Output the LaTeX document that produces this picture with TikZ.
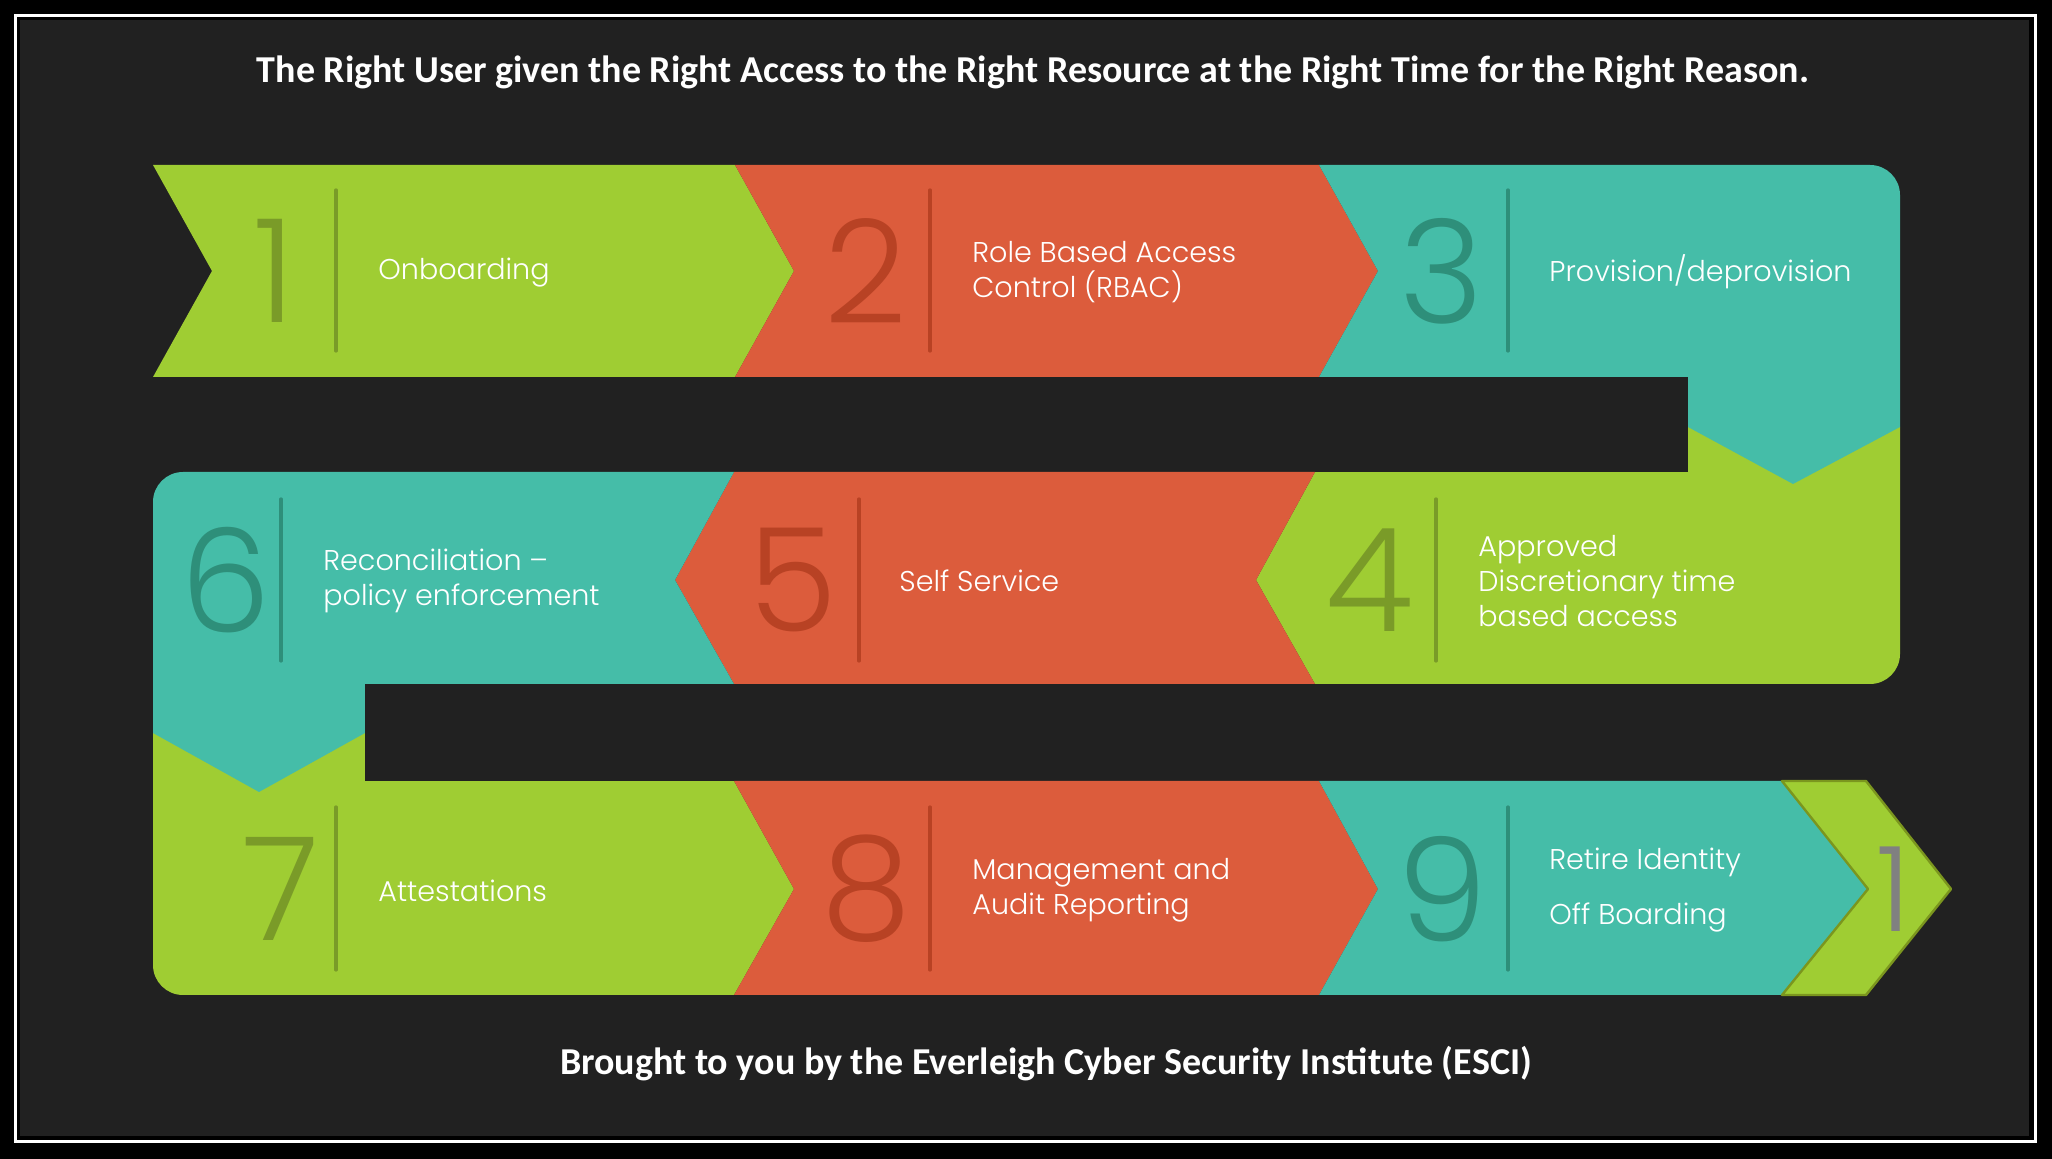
\documentclass[tikz,border=0pt]{standalone}
\usepackage{fontspec}
\setmainfont{Poppins Light}
\newfontfamily\headfont{Carlito}
\definecolor{bgdark}{HTML}{212121}
\definecolor{leaf}{HTML}{9FCD33}
\definecolor{leafdk}{HTML}{7A9B28}
\definecolor{leafedge}{HTML}{7B961E}
\definecolor{rust}{HTML}{DC5C3C}
\definecolor{rustdk}{HTML}{B84224}
\definecolor{sea}{HTML}{45BDA8}
\definecolor{seadk}{HTML}{2E8F7A}
\begin{document}
\begin{tikzpicture}[x=0.5pt,y=-0.5pt,
  numtext/.style={font=\fontsize{72}{72}\selectfont,inner sep=0pt},
  labeltext/.style={anchor=west,align=left,text=white,inner sep=0pt,yshift=-0.6pt,font=\fontsize{14.3}{17.5}\selectfont},
  headtext/.style={text=white,inner sep=0pt,font=\headfont\bfseries\fontsize{19}{22}\selectfont},
  divline/.style={line width=1.6pt,line cap=round}]
\useasboundingbox (0,0) rectangle (2052,1159);
\fill[black] (0,0) rectangle (2052,1159);
\draw[white,line width=1.5pt] (15.5,15.5) rectangle (2035,1141);
\fill[bgdark] (20,20) rectangle (2029,1136);
\node[headtext] (title) at (1033,72) {The Right User given the Right Access to the Right Resource at the Right Time for the Right Reason.};
\node[headtext] (credit) at (1046,1064) {Brought to you by the Everleigh Cyber Security Institute (ESCI)};
% row 1
\fill[leaf] (153,165) -- (735,165) -- (794,271) -- (735,377) -- (153,377) -- (212,271) -- cycle;
\fill[rust] (735,165) -- (1319,165) -- (1378,271) -- (1319,377) -- (735,377) -- (794,271) -- cycle;
\fill[leaf] (1315,472) -- (1688,472) -- (1688,427) -- (1900,427) -- (1900,654) arc[start angle=0,end angle=90,radius=30] -- (1315,684) -- (1256,580) -- cycle;
\fill[sea] (1319,165) -- (1870,165) arc[start angle=-90,end angle=0,radius=30] -- (1900,427) -- (1793,484) -- (1688,427) -- (1688,377) -- (1319,377) -- (1378,271) -- cycle;
\fill[bgdark] (153,377) rectangle (1688,472);
% row 2
\fill[rust] (1315,472) -- (734,472) -- (675,580) -- (734,684) -- (1315,684) -- (1256,580) -- cycle;
\fill[leaf] (153,733) -- (365,733) -- (365,781) -- (734,781) -- (794,889) -- (734,995) -- (183,995) arc[start angle=90,end angle=180,radius=30] -- cycle;
\fill[sea] (734,472) -- (183,472) arc[start angle=-90,end angle=-180,radius=30] -- (153,733) -- (259,792) -- (365,733) -- (365,684) -- (734,684) -- (675,580) -- cycle;
\fill[bgdark] (365,684) rectangle (1900,781);
% row 3
\fill[rust] (734,781) -- (1319,781) -- (1378,889) -- (1319,995) -- (734,995) -- (794,889) -- cycle;
\fill[sea] (1319,781) -- (1782,781) -- (1868,889) -- (1782,995) -- (1319,995) -- (1378,889) -- cycle;
\filldraw[fill=leaf,draw=leafedge,line width=1.2pt,line join=round] (1782,781) -- (1866,781) -- (1951,889) -- (1866,995) -- (1782,995) -- (1868,889) -- cycle;
% dividers
\draw[divline,leafdk] (336,190) -- (336,351);
\draw[divline,rustdk] (930,190) -- (930,351);
\draw[divline,seadk] (1508,190) -- (1508,351);
\draw[divline,leafdk] (1436,499) -- (1436,661);
\draw[divline,rustdk] (859,499) -- (859,661);
\draw[divline,seadk] (281,499) -- (281,661);
\draw[divline,leafdk] (336,807) -- (336,970);
\draw[divline,rustdk] (930,807) -- (930,970);
\draw[divline,seadk] (1508,807) -- (1508,970);
% numbers
\node[numtext,text=leafdk] (n1) at (275,271) {1};
\node[numtext,text=rustdk] (n2) at (866,271) {2};
\node[numtext,text=seadk] (n3) at (1442,271) {3};
\node[numtext,text=leafdk] (n4) at (1370,580) {4};
\node[numtext,text=rustdk] (n5) at (793,580) {5};
\node[numtext,text=seadk] (n6) at (226,580) {6};
\node[numtext,text=leafdk] (n7) at (281,889) {7};
\node[numtext,text=rustdk] (n8) at (866,889) {8};
\node[numtext,text=seadk] (n9) at (1442,889) {9};
\node[inner sep=0pt,text=gray,font=\fontsize{59}{59}\selectfont] (nend) at (1894,889) {1};
% labels
\node[labeltext] (l1) at (378,271) {Onboarding};
\node[labeltext] (l2) at (972,271) {Role Based Access\\Control (RBAC)};
\node[labeltext] (l3) at (1549,271) {Provision/deprovision};
\node[labeltext] (l4) at (1478,580) {Approved\\Discretionary time\\based access};
\node[labeltext] (l5) at (899,580) {Self Service};
\node[labeltext] (l6) at (323,580) {Reconciliation --\\policy enforcement};
\node[labeltext] (l7) at (378,890) {Attestations};
\node[labeltext] (l8) at (972,889) {Management and\\Audit Reporting};
\node[labeltext] (l9) at (1549,889) {Retire Identity\\[10pt]Off Boarding};
\end{tikzpicture}
\end{document}
